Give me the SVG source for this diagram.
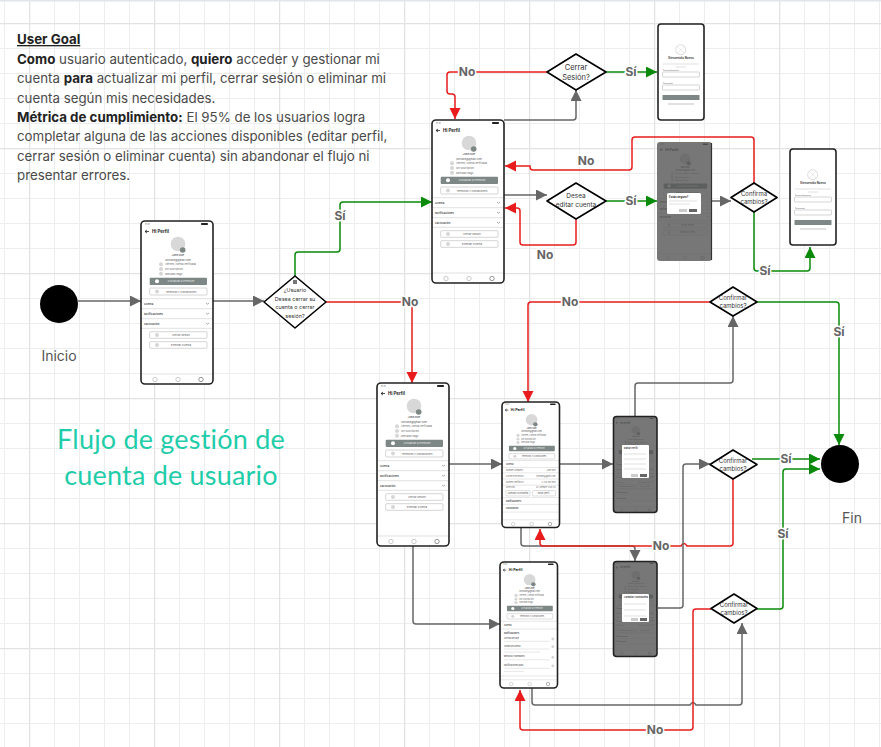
<svg xmlns="http://www.w3.org/2000/svg" width="881" height="747" viewBox="0 0 881 747">
<style>
text{font-family:"Inter","Liberation Sans",sans-serif}
.goal{font-size:13.300px;fill:#4a4a4a}
.goal .b{font-weight:700;fill:#222}
.title{font-size:27px;fill:#1fcdaa;text-anchor:middle;font-family:"Lato","Liberation Sans",sans-serif;letter-spacing:.2px}
.cap{font-size:14px;fill:#555;text-anchor:middle}
.lab{font-size:12px;font-weight:700;fill:#666;text-anchor:middle;paint-order:stroke;stroke:#fff;stroke-width:3px}
.dt{font-size:6px;fill:#333;text-anchor:middle}
.dia{fill:#fff;stroke:#000;stroke-width:1.600;stroke-linejoin:round}
.frame{fill:none;stroke:#222;stroke-width:1.600}
.bg{fill:#fff}
.g,.r,.v{fill:none;stroke-width:1.500}
.g{stroke:#666;marker-end:url(#ag)}
.r{stroke:#e81c1c;marker-end:url(#ar)}
.v{stroke:#0a8a0a;marker-end:url(#av)}
.s{font-size:2.500px;fill:#666}
.sb{font-size:2.700px;fill:#444;font-weight:600}
.sm{font-size:2.700px;fill:#555;text-anchor:middle}
.hd{font-size:4.400px;fill:#222;font-weight:700}
.dot{fill:#d6d6d6}
.av{fill:#d8d8d8}
.ln{stroke:#ccc;stroke-width:.6;fill:none}
.btn{fill:#fff;stroke:#aaa;stroke-width:.5}
.bd{fill:#7d8785}
.dim{fill:#555;opacity:.8}
.modal{fill:#fff}
.ms{font-size:2.400px;fill:#444}
.mt{font-size:2.800px;fill:#222;font-weight:700}
</style>
<defs>
<pattern id="gmin" width="25" height="25" patternUnits="userSpaceOnUse" patternTransform="translate(4 -2)"><path d="M0 0V25M0 0H25" fill="none" stroke="#ededed" stroke-width="1" transform="translate(.5 .5)"/></pattern>
<pattern id="gmaj" width="125" height="125" patternUnits="userSpaceOnUse" patternTransform="translate(29 23)"><path d="M0 0V125M0 0H125" fill="none" stroke="#e2e2e2" stroke-width="1.500" transform="translate(.5 .5)"/></pattern>
<marker id="ag" markerUnits="userSpaceOnUse" markerWidth="12" markerHeight="12" refX="11" refY="5.500" orient="auto"><path d="M0 0L11 5.500L0 11Z" fill="#666"/></marker>
<marker id="ar" markerUnits="userSpaceOnUse" markerWidth="12" markerHeight="12" refX="11" refY="5.500" orient="auto"><path d="M0 0L11 5.500L0 11Z" fill="#e81c1c"/></marker>
<marker id="av" markerUnits="userSpaceOnUse" markerWidth="12" markerHeight="12" refX="11" refY="5.500" orient="auto"><path d="M0 0L11 5.500L0 11Z" fill="#0a8a0a"/></marker>
<g id="top">
<text class="s" x="4" y="4">9:41</text>
<rect x="60" y="2" width="7" height="2" rx=".8" fill="#222"/>
<path d="M4 10.500H8M4 10.500L6 9M4 10.500L6 12" stroke="#222" stroke-width=".8" fill="none"/>
<text class="hd" x="11" y="12">Hi Perfil</text>
<circle class="av" cx="37" cy="23" r="7.300"/><circle cx="41.700" cy="29" r="2.800" fill="#7d8785"/>
<text class="sm" x="37" y="35" font-weight="600">John Doe</text>
<text class="sm" x="37" y="39.500">johndoe@gmail.com</text>
<circle class="dot" cx="20" cy="43.300" r="2"/><text class="s" x="24" y="44.200">Viernes, cuenta verificada</text>
<circle class="dot" cx="20" cy="48" r="2"/><text class="s" x="24" y="48.900">Sin suscripción</text>
<circle class="dot" cx="20" cy="52.700" r="2"/><text class="s" x="24" y="53.600">Mercado Pago</text>
<rect class="bd" x="8.700" y="56.700" width="57.300" height="7.300" rx="1"/><circle cx="16" cy="60.300" r="2" fill="#fff"/>
<text class="sm" x="40" y="61.300" style="fill:#e8e8e8">Actualizar a Premium</text>
<rect class="btn" x="8.700" y="67" width="57.300" height="7" rx="1"/><circle class="dot" cx="16" cy="70.500" r="2"/>
<text class="sm" x="40" y="71.500">Términos y Condiciones</text>
</g>
<g id="tabs">
<path class="ln" d="M0 153H72"/>
<circle cx="14" cy="158.500" r="2.200" fill="none" stroke="#aaa" stroke-width=".6"/>
<circle cx="37" cy="158.500" r="2.200" fill="none" stroke="#aaa" stroke-width=".6"/>
<circle cx="60" cy="158.500" r="2.200" fill="none" stroke="#555" stroke-width=".6"/>
</g>
<g id="scrA">
<use href="#top"/>
<path class="ln" d="M0 77.700H72M0 87.700H72M0 97.700H72M0 107.300H72"/>
<text class="sb" x="3" y="83.700">Cuenta</text><text class="sb" x="3" y="93.500">Notificaciones</text><text class="sb" x="3" y="103.500">Facturación</text>
<path d="M65 82l1.500 1.200L68 82M65 92l1.500 1.200L68 92M65 102l1.500 1.200L68 102" fill="none" stroke="#555" stroke-width=".5"/>
<rect class="btn" x="8.700" y="110.700" width="57.300" height="6.600" rx="1"/><circle class="dot" cx="16" cy="114" r="2"/><text class="sm" x="40" y="115">Cerrar Sesión</text>
<rect class="btn" x="8.700" y="120.700" width="57.300" height="6.600" rx="1"/><circle class="dot" cx="16" cy="124" r="2"/><text class="sm" x="40" y="125">Eliminar Cuenta</text>
<use href="#tabs"/>
</g>
<g id="scrB">
<use href="#top"/>
<path class="ln" d="M0 76H72M0 85H72M0 92H72M0 100H72M0 108H72M0 124H72M0 133H72M0 143H72"/>
<text class="sb" x="5" y="82">Cuenta</text>
<text class="s" x="5" y="90">Nombre completo</text><text class="s" x="67" y="90" text-anchor="end">John Doe</text>
<text class="s" x="5" y="97">Correo electrónico</text><text class="s" x="67" y="97" text-anchor="end">johndoe@gmail.com</text>
<text class="s" x="5" y="105">Número telefónico</text><text class="s" x="67" y="105" text-anchor="end">+1 234 567 890</text>
<text class="s" x="5" y="112">Dirección</text><text class="s" x="67" y="112" text-anchor="end">Av. Siempre Viva 123</text>
<rect class="btn" x="5" y="115" width="30" height="7" rx="1"/><text class="sm" x="20" y="119.500">Cambiar contraseña</text>
<rect class="btn" x="38" y="115" width="29" height="7" rx="1"/><text class="sm" x="52" y="119.500">Editar perfil</text>
<text class="sb" x="5" y="130">Notificaciones</text><text class="sb" x="5" y="139">Facturación</text>
<use href="#tabs"/>
</g>
<g id="scrC">
<use href="#top"/>
<path class="ln" d="M0 77H72M0 87H72M0 148H72"/>
<text class="sb" x="5" y="83">Cuenta</text><text class="sb" x="5" y="93">Notificaciones</text>
<text class="s" x="5" y="100" font-weight="600">Alertas de viaje</text><path class="ln" d="M5 103H62"/>
<text class="s" x="5" y="110" font-weight="600">Avisos de cuenta</text><path class="ln" d="M5 113H62M5 117H50"/>
<text class="s" x="5" y="124" font-weight="600">Mejoras y novedades</text><path class="ln" d="M5 127H62"/>
<text class="s" x="5" y="135" font-weight="600">Notificaciones push</text><path class="ln" d="M5 138H62M5 142H30"/>
<circle class="dot" cx="66" cy="100" r="1.800"/><circle class="dot" cx="66" cy="110" r="1.800"/><circle class="dot" cx="66" cy="124" r="1.800"/><circle class="dot" cx="66" cy="135" r="1.800"/>
<use href="#tabs"/>
</g>
<g id="login">
<circle cx="22.700" cy="25.700" r="5" fill="none" stroke="#bbb" stroke-width=".5"/><path d="M19 22l7.400 7.400M26.400 22L19 29.400" stroke="#ccc" stroke-width=".4"/>
<text x="23" y="35" font-size="2.900" font-weight="700" fill="#444" text-anchor="middle">Bienvenido Nuevo</text>
<path class="ln" d="M5 40H41"/><path class="ln" d="M18 43H28"/>
<text x="5" y="47" font-size="1.800" fill="#666">Correo electrónico</text>
<rect x="4.500" y="48" width="37" height="5" rx=".8" class="btn"/>
<text x="5" y="60" font-size="1.800" fill="#666">Contraseña</text>
<rect x="4.500" y="61" width="37" height="5" rx=".8" class="btn"/>
<rect x="4.500" y="71" width="37" height="5" rx=".6" class="bd"/>
<path d="M10 80H36" stroke="#aaa" stroke-width=".7"/>
</g>
</defs>
<rect width="881" height="747" fill="#fff"/>
<rect width="881" height="747" fill="url(#gmin)"/>
<rect width="881" height="747" fill="url(#gmaj)"/>
<rect width="881" height="1.500" fill="#e2e6ec"/>

<g id="goal" class="goal">
<text x="17" y="44" class="b" text-decoration="underline">User Goal</text>
<text x="17" y="63.500"><tspan class="b">Como</tspan> usuario autenticado, <tspan class="b">quiero</tspan> acceder y gestionar mi</text>
<text x="17" y="83">cuenta <tspan class="b">para</tspan> actualizar mi perfil, cerrar sesión o eliminar mi</text>
<text x="17" y="102.500">cuenta según mis necesidades.</text>
<text x="17" y="122"><tspan class="b">Métrica de cumplimiento:</tspan> El 95% de los usuarios logra</text>
<text x="17" y="141">completar alguna de las acciones disponibles (editar perfil,</text>
<text x="17" y="160.500">cerrar sesión o eliminar cuenta) sin abandonar el flujo ni</text>
<text x="17" y="180">presentar errores.</text>
</g>
<g id="flow-title"><text class="title" x="171" y="449">Flujo de gestión de</text><text class="title" x="171" y="485">cuenta de usuario</text></g>

<g id="connectors">
<path class="g" d="M78 301H141"/>
<path class="g" d="M213 301H264"/>
<path class="v" d="M295 276V255Q295 252 298 252H337Q340 252 340 249V205Q340 202 343 202H432"/>
<path class="r" d="M326 302H409Q412 302 412 305V383"/>
<path class="g" d="M504 120H573Q576 120 576 117V90"/>
<path class="r" d="M547 72H450Q447 72 447 75V91Q447 94 450 94H452Q455 94 455 97V119"/>
<path class="v" d="M606 72H657"/>
<path class="g" d="M504 195H547"/>
<path class="v" d="M606 201H657"/>
<path class="r" d="M576 219V242Q576 245 573 245H523Q520 245 520 242V211Q520 208 517 208H505"/>
<path class="r" d="M754 183V140Q754 137 751 137H635Q632 137 632 140V167Q632 170 629 170H533Q530 170 530 167V166H505"/>
<path class="g" d="M712 201H731"/>
<path class="v" d="M754 212V268Q754 271 757 271H807Q810 271 810 268V247"/>
<path class="r" d="M710 302H531Q528 302 528 305V402"/>
<path class="v" d="M757 302H836Q839 302 839 305V445"/>
<path class="g" d="M449 464H502"/>
<path class="g" d="M559 464H613"/>
<path class="g" d="M635 416V386Q635 383 638 383H730Q733 383 733 380V316"/>
<path class="g" d="M521 527V543Q521 546 524 546H632Q635 546 635 549V561"/>
<path class="r" d="M733 479V543Q733 546 730 546H687Q684 541 681 546H543Q540 546 540 543V529"/>
<path class="g" d="M658 608H680Q683 608 683 605V467Q683 464 686 464H710"/>
<path class="v" d="M752 459H820"/>
<path class="g" d="M413 546V621Q413 624 416 624H500"/>
<path class="g" d="M532 688V702Q532 705 535 705H690Q693 700 696 705H739Q742 705 742 702V623"/>
<path class="r" d="M711 609H696Q693 609 693 612V727Q693 730 690 730H523Q520 730 520 727V690"/>
<path class="v" d="M757 609H780Q783 609 783 606V472Q783 469 786 469H820"/>
</g>

<g id="start"><circle cx="59" cy="304" r="19" fill="#000"/><text class="cap" x="59" y="361">Inicio</text></g>
<g id="end"><circle cx="840" cy="464" r="19" fill="#000"/><text class="cap" x="852" y="523">Fin</text></g>

<g id="phone-perfil"><rect class="bg" x="141" y="221" width="72" height="163" rx="4"/><use href="#scrA" transform="translate(141 221)"/><rect class="frame" x="141" y="221" width="72" height="163" rx="4"/></g>
<g id="phone-perfil-2"><rect class="bg" x="432" y="120" width="72" height="163" rx="4"/><use href="#scrA" transform="translate(432 120)"/><rect class="frame" x="432" y="120" width="72" height="163" rx="4"/></g>
<g id="phone-perfil-3"><rect class="bg" x="377" y="383" width="72" height="163" rx="4"/><use href="#scrA" transform="translate(377 383)"/><rect class="frame" x="377" y="383" width="72" height="163" rx="4"/></g>
<g id="phone-cuenta"><rect class="bg" x="502" y="402" width="57.500" height="125.500" rx="4"/><use href="#scrB" transform="translate(502 402) scale(.8 .77)"/><rect class="frame" x="502" y="402" width="57.500" height="125.500" rx="4"/></g>
<g id="phone-notif"><rect class="bg" x="500" y="562" width="57.500" height="126" rx="4"/><use href="#scrC" transform="translate(500 562) scale(.8 .77)"/><rect class="frame" x="500" y="562" width="57.500" height="126" rx="4"/></g>

<g id="login-1"><rect class="bg" x="658" y="24" width="46" height="96" rx="3"/><use href="#login" transform="translate(658 24)"/><rect class="frame" x="658" y="24" width="46" height="96" rx="3"/></g>
<g id="login-2"><rect class="bg" x="790" y="149" width="46" height="96" rx="3"/><use href="#login" transform="translate(790 149)"/><rect class="frame" x="790" y="149" width="46" height="96" rx="3"/></g>

<g id="phone-dim-editar">
<rect class="bg" x="657" y="142" width="55" height="119" rx="3"/><use href="#scrA" transform="translate(657 142) scale(.76 .73)"/><rect class="dim" x="657" y="142" width="55" height="119" rx="3"/>
<path d="M711.500 143V260" stroke="#333" stroke-width="1.200"/>
<rect class="modal" x="667" y="193" width="34" height="21" rx="1.500"/>
<text class="mt" x="669" y="198">Estás seguro?</text>
<path class="ln" d="M669 201H697M669 204H690"/>
<rect x="689" y="209" width="8" height="3" fill="#666"/><rect x="679" y="209" width="8" height="3" fill="#ccc"/>
</g>
<g id="phone-dim-cuenta">
<rect class="bg" x="613.500" y="416.500" width="43.500" height="96" rx="3"/><use href="#scrB" transform="translate(613.500 416.500) scale(.6 .59)"/><rect class="dim" x="613.500" y="416.500" width="43.500" height="96" rx="3"/>
<rect class="modal" x="622" y="445" width="27" height="33" rx="1"/>
<text class="ms" x="624" y="449" font-weight="700">Editar Perfil</text>
<path class="ln" d="M624 454H646M624 459H646M624 464H646M624 469H646"/>
<rect x="640" y="474" width="7" height="3" fill="#666"/><rect x="631" y="474" width="7" height="3" fill="#ccc"/>
<rect class="frame" x="613.500" y="416.500" width="43.500" height="96" rx="3"/>
</g>
<g id="phone-dim-pass">
<rect class="bg" x="613.500" y="561.500" width="43.500" height="95" rx="3"/><use href="#scrB" transform="translate(613.500 561.500) scale(.6 .58)"/><rect class="dim" x="613.500" y="561.500" width="43.500" height="95" rx="3"/>
<rect class="modal" x="622" y="594" width="27" height="28" rx="1"/>
<text class="ms" x="624" y="598" font-weight="700">Cambiar Contraseña</text>
<path class="ln" d="M624 604H646M624 610H646M624 616H646"/>
<rect x="640" y="618" width="7" height="3" fill="#666"/><rect x="631" y="618" width="7" height="3" fill="#ccc"/>
<rect class="frame" x="613.500" y="561.500" width="43.500" height="95" rx="3"/>
</g>

<g id="d-usuario"><path class="dia" d="M295 276L326 302L295 328L264 302Z"/><rect x="293" y="280" width="4" height="4" fill="#777"/><text class="dt" style="font-size:5.400px" x="295" y="292">¿Usuario</text><text class="dt" style="font-size:5.400px" x="295" y="300.500">Desea cerrar su</text><text class="dt" style="font-size:5.400px" x="295" y="309">cuenta o cerrar</text><text class="dt" style="font-size:5.400px" x="295" y="317.500">sesión?</text></g>
<g id="d-cerrar"><path class="dia" d="M576 54L606 72L576 90L547 72Z"/><text class="dt" style="font-size:7.500px" x="576" y="70">Cerrar</text><text class="dt" style="font-size:7.500px" x="576" y="80">Sesión?</text></g>
<g id="d-desea"><path class="dia" d="M576 183L606 201L576 219L547 201Z"/><text class="dt" style="font-size:6.500px" x="576" y="198">Desea</text><text class="dt" style="font-size:6.500px" x="576" y="207">editar cuenta</text></g>
<g id="d-confirma"><path class="dia" d="M754 183L777 197.500L754 212L731 197.500Z"/><text class="dt" x="754" y="196">Confirma</text><text class="dt" x="754" y="204">cambios?</text></g>
<g id="d-conf1"><path class="dia" d="M733 287L757 302L733 316L710 302Z"/><text class="dt" x="733" y="300">Confirmar</text><text class="dt" x="733" y="308">cambios?</text></g>
<g id="d-conf2"><path class="dia" d="M733 450L757 464.500L733 479L710 464.500Z"/><text class="dt" x="733" y="463">Confirmar</text><text class="dt" x="733" y="471">cambios?</text></g>
<g id="d-conf3"><path class="dia" d="M734 594L757 608.500L734 623L711 608.500Z"/><text class="dt" x="734" y="607">Confirmar</text><text class="dt" x="734" y="615">cambios?</text></g>

<g id="labels">
<text class="lab" x="340" y="220">Sí</text>
<text class="lab" x="410" y="306">No</text>
<text class="lab" x="467" y="76">No</text>
<text class="lab" x="631" y="76">Sí</text>
<text class="lab" x="586" y="165">No</text>
<text class="lab" x="631" y="205">Sí</text>
<text class="lab" x="545" y="259">No</text>
<text class="lab" x="765" y="275">Sí</text>
<text class="lab" x="570" y="306">No</text>
<text class="lab" x="839" y="336">Sí</text>
<text class="lab" x="786" y="463">Sí</text>
<text class="lab" x="661" y="550">No</text>
<text class="lab" x="783" y="538">Sí</text>
<text class="lab" x="655" y="734">No</text>
</g>
</svg>
